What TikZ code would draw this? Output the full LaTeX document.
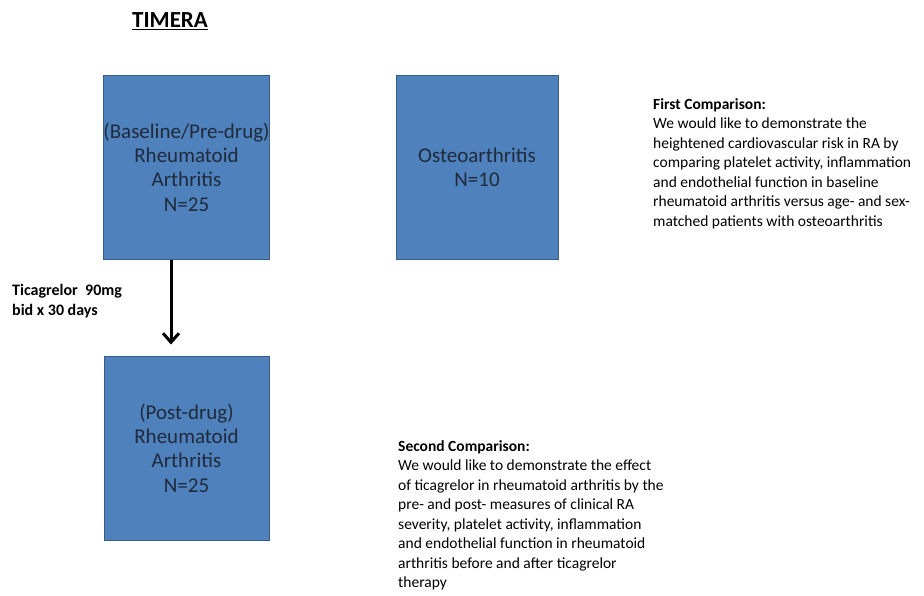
\documentclass[tikz,border=0pt]{standalone}
\usepackage{fontspec}
\setmainfont{Carlito}
\usetikzlibrary{arrows.meta}
\definecolor{boxfill}{HTML}{4F81BD}
\definecolor{boxline}{HTML}{385D8A}
\definecolor{boxtext}{HTML}{1F2A3A}
\tikzset{
  bluebox/.style={draw=boxline, line width=1pt, fill=boxfill, minimum height=184pt, align=center,
    font=\fontsize{21}{24.3}\selectfont, text=boxtext, inner sep=0pt},
  note/.style={anchor=north west, align=left, inner sep=0pt, font=\fontsize{15.5}{19.5}\selectfont},
  flowarrow/.style={line width=3pt, -{Straight Barb[length=9pt,width=16pt,line width=3pt]}}
}
\begin{document}
\begin{tikzpicture}[x=1pt,y=-1pt]
\useasboundingbox (0,0) rectangle (924,595);
\node[font=\bfseries\fontsize{23}{26}\selectfont] (title) at (170,21) {\underline{TIMERA}};
\node[bluebox, minimum width=165pt] (ra) at (186.5,167) {(Baseline/Pre-drug)\\Rheumatoid\\Arthritis\\N=25};
\node[bluebox, minimum width=162pt] (oa) at (477,167) {Osteoarthritis\\N=10};
\node[bluebox, minimum width=165pt] (post) at (186.5,448) {(Post-drug)\\Rheumatoid\\Arthritis\\N=25};
\draw[flowarrow, shorten >=11pt] (ra.south -| 171,0) -- (post.north -| 171,0);
\node[note, font=\bfseries\fontsize{16}{20}\selectfont] (tica) at (12,284) {Ticagrelor\ \ 90mg\\bid x 30 days};
\node[note] (first) at (653,98) {\textbf{First Comparison:}\\We would like to demonstrate the\\heightened cardiovascular risk in RA by\\comparing platelet activity, inflammation\\and endothelial function\ in baseline\\rheumatoid arthritis versus age- and sex-\\matched patients with osteoarthritis};
\node[note] (second) at (398,440) {\textbf{Second\ Comparison:}\\We would like to demonstrate the effect\\of\ ticagrelor in rheumatoid arthritis by the\\pre- and post- measures\ of clinical RA\\severity, platelet activity, inflammation\\and endothelial function\ in rheumatoid\\arthritis before and after ticagrelor\\therapy};
\end{tikzpicture}
\end{document}
